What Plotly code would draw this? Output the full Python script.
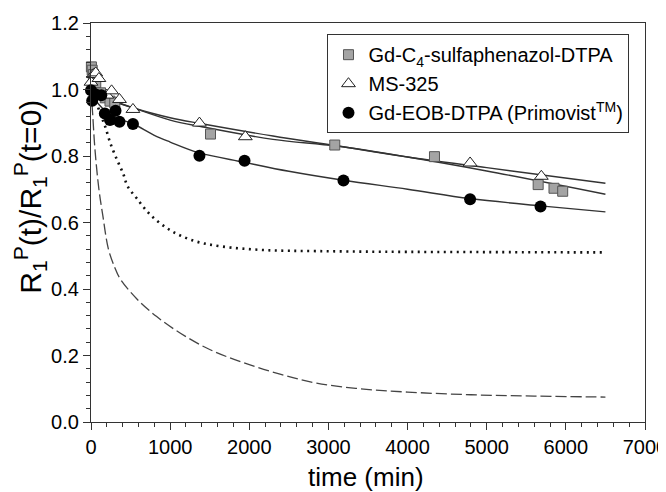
import plotly.graph_objects as go

# ---- measured data ----
sq_t = [5, 15, 30, 60, 120, 180, 240, 300, 1510, 3080, 4340, 5650, 5850, 5960]
sq_y = [1.068, 1.058, 1.045, 1.02, 0.99, 0.975, 0.965, 0.96, 0.866, 0.833, 0.798, 0.714, 0.703, 0.694]

tri_t = [0, 30, 60, 100, 200, 260, 360, 530, 1370, 1950, 4790, 5690]
tri_y = [1.022, 1.045, 1.05, 1.033, 0.983, 0.996, 0.970, 0.940, 0.899, 0.858, 0.779, 0.739]

cir_t = [0, 15, 60, 130, 175, 240, 310, 360, 530, 1370, 1940, 3190, 4790, 5680]
cir_y = [0.998, 0.966, 0.985, 0.983, 0.928, 0.908, 0.936, 0.903, 0.896, 0.801, 0.786, 0.726, 0.670, 0.648]

# fitted curves
fitA_t = [0, 150, 300, 530, 1000, 1400, 2300, 3100, 4000, 5000, 6500]
fitA_y = [1.04, 0.99, 0.965, 0.945, 0.915, 0.897, 0.860, 0.831, 0.797, 0.765, 0.718]

fitB_t = [0, 150, 300, 530, 1000, 1400, 2300, 3100, 4000, 5000, 6500]
fitB_y = [1.05, 0.99, 0.965, 0.945, 0.908, 0.888, 0.850, 0.830, 0.797, 0.755, 0.685]

fitC_t = [0, 100, 200, 350, 530, 800, 1000, 1360, 1940, 2500, 3190, 4000, 4790, 5680, 6500]
fitC_y = [0.99, 0.955, 0.932, 0.912, 0.897, 0.862, 0.842, 0.810, 0.781, 0.754, 0.727, 0.700, 0.672, 0.650, 0.632]

dot_t = [0, 50, 95, 140, 180, 245, 330, 410, 460, 580, 750, 1000, 1300, 1650, 2200, 2850, 3700, 5000, 6500]
dot_y = [1.0, 0.97, 0.943, 0.913, 0.888, 0.838, 0.788, 0.745, 0.71, 0.672, 0.623, 0.577, 0.545, 0.528, 0.517, 0.514, 0.512, 0.511, 0.510]

dash_t = [0, 20, 50, 100, 150, 220, 300, 370, 580, 830, 1130, 1500, 1930, 2400, 2850, 3400, 4000, 4800, 5600, 6500]
dash_y = [1.0, 0.93, 0.82, 0.70, 0.62, 0.52, 0.465, 0.43, 0.37, 0.317, 0.267, 0.218, 0.178, 0.143, 0.117, 0.100, 0.090, 0.082, 0.078, 0.075]

x_ticks = [0, 1000, 2000, 3000, 4000, 5000, 6000, 7000]
y_ticks = [0, 0.2, 0.4, 0.6, 0.8, 1.0, 1.2]
y_ticklabels = ["0.0", "0.2", "0.4", "0.6", "0.8", "1.0", "1.2"]

FONT = "Liberation Sans, Arial, sans-serif"
LC = "#333333"

fig = go.Figure()
for t, y in [(fitA_t, fitA_y), (fitB_t, fitB_y), (fitC_t, fitC_y)]:
    fig.add_trace(go.Scatter(x=t, y=y, mode="lines", line=dict(color=LC, width=1.4, shape="spline"),
                             showlegend=False, hoverinfo="skip"))
fig.add_trace(go.Scatter(x=dot_t, y=dot_y, mode="lines", line=dict(color="#111", width=2.6, dash="2px,4.5px", shape="spline"),
                         showlegend=False))
fig.add_trace(go.Scatter(x=dash_t, y=dash_y, mode="lines", line=dict(color="#444", width=1.3, dash="11px,4px", shape="spline"),
                         showlegend=False))

fig.add_trace(go.Scatter(x=sq_t, y=sq_y, mode="markers", name="Gd-C<sub>4</sub>-sulfaphenazol-DTPA",
                         marker=dict(symbol="square", size=10, color="#a4a4a4", line=dict(color="#555", width=1)),
                         cliponaxis=False))
fig.add_trace(go.Scatter(x=tri_t, y=tri_y, mode="markers", name="MS-325",
                         marker=dict(symbol="triangle-up", size=12, color="white", line=dict(color="#222", width=1)),
                         cliponaxis=False))
fig.add_trace(go.Scatter(x=cir_t, y=cir_y, mode="markers", name="Gd-EOB-DTPA (Primovist<sup>TM</sup>)",
                         marker=dict(symbol="circle", size=12, color="black", line=dict(color="black", width=0)),
                         cliponaxis=False))

# the page body adds an 8px offset, so the figure is 8px smaller and margins are shifted
fig.update_layout(
    width=658, height=484,
    margin=dict(l=83, r=21, t=15, b=70, autoexpand=False),
    paper_bgcolor="white", plot_bgcolor="white",
    font=dict(family=FONT, size=20, color="black"),
    legend=dict(x=0.972, xanchor="right", y=0.972, yanchor="top",
                bordercolor="#333", borderwidth=1, bgcolor="white",
                font=dict(size=20), tracegroupgap=0, itemwidth=30),
    showlegend=True,
    annotations=[
        dict(text="time (min)", xref="paper", yref="paper", x=0.497, y=-0.138, xanchor="center", yanchor="middle",
             showarrow=False, font=dict(size=26)),
        dict(text="R<sub>1</sub><sup>P</sup>(t)/R<sub>1</sub><sup>P</sup>(t=0)", xref="paper", yref="paper",
             x=-0.11, y=0.565, xanchor="center", yanchor="middle", textangle=-90,
             showarrow=False, font=dict(size=30)),
    ],
)
fig.update_xaxes(range=[0, 7000], tickvals=x_ticks, automargin=False, ticklabeloverflow="allow",
                 ticks="outside", ticklen=7, tickwidth=1, tickcolor=LC,
                 showline=True, linecolor=LC, linewidth=1.3, mirror=True, showgrid=False, zeroline=False,
                 minor=dict(dtick=200, ticks="outside", ticklen=4, tickcolor=LC, showgrid=False),
                 tickfont=dict(size=20))
fig.update_yaxes(range=[0, 1.2], tickvals=y_ticks, ticktext=y_ticklabels, automargin=False, ticklabeloverflow="allow",
                 ticks="outside", ticklen=7, tickwidth=1, tickcolor=LC,
                 showline=True, linecolor=LC, linewidth=1.3, mirror=True, showgrid=False, zeroline=False,
                 minor=dict(dtick=0.04, ticks="outside", ticklen=4, tickcolor=LC, showgrid=False),
                 tickfont=dict(size=20))

fig.write_html("out.html")
